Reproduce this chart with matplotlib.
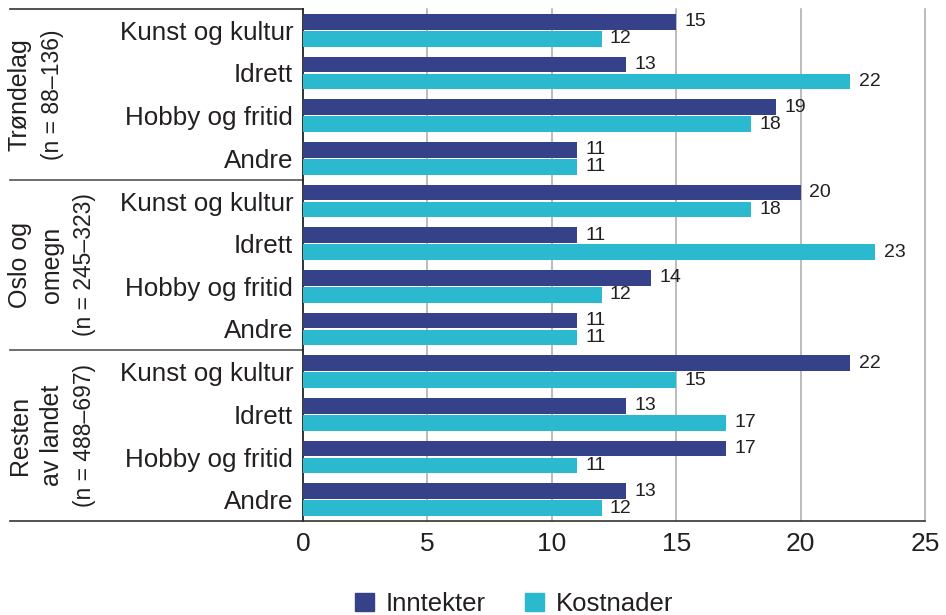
import matplotlib
matplotlib.use("Agg")
import matplotlib.pyplot as plt
import matplotlib.transforms as mtransforms
from matplotlib.lines import Line2D
from matplotlib.patches import Patch
import numpy as np

plt.rcParams['font.family'] = ['Liberation Sans', 'DejaVu Sans']

categories = ["Kunst og kultur", "Idrett", "Hobby og fritid", "Andre"]
groups = [["Trøndelag", "(n = 88–136)"],
          ["Oslo og", "omegn", "(n = 245–323)"],
          ["Resten", "av landet", "(n = 488–697)"]]
inntekter = [15, 13, 19, 11, 20, 11, 14, 11, 22, 13, 17, 13]
kostnader = [12, 22, 18, 11, 18, 23, 12, 11, 15, 17, 11, 12]
series_names = ["Inntekter", "Kostnader"]
xticks = [0, 5, 10, 15, 20, 25]

c_dark = "#35428A"
c_cyan = "#2BB9CF"
txt = "#231F20"

W, H = 946, 615
fig = plt.figure(figsize=(W / 100, H / 100), dpi=100)
ax = fig.add_axes([303 / W, 1 - 521 / H, (925 - 303) / W, (521 - 9) / H])

n = len(inntekter)
y = np.arange(n)
off = 0.2
h = 0.37
b1 = ax.barh(y - off, inntekter, height=h, color=c_dark, zorder=3)
b2 = ax.barh(y + off, kostnader, height=h, color=c_cyan, zorder=3)

for bars, vals in ((b1, inntekter), (b2, kostnader)):
    for rect, v in zip(bars, vals):
        ax.annotate(f"{v}", (rect.get_width(), rect.get_y() + rect.get_height() / 2),
                    xytext=(6, 0), textcoords="offset points", va="center", ha="left",
                    fontsize=14, color=txt)

ax.set_xlim(0, 25)
ax.set_ylim(n - 0.5, -0.5)
ax.set_xticks(xticks)
ax.set_xticklabels([str(t) for t in xticks], fontsize=19, color=txt)
ax.set_yticks(y)
ax.set_yticklabels(categories * 3, fontsize=18.7, color=txt)
ax.tick_params(axis="both", length=0)
ax.tick_params(axis="x", pad=8)
ax.tick_params(axis="y", pad=7)

for t in xticks[1:]:
    ax.axvline(t, color="#AAAAAA", lw=1.1, zorder=1, clip_on=False)

for s in ("top", "right"):
    ax.spines[s].set_visible(False)
ax.spines["left"].set_color("#222222")
ax.spines["left"].set_linewidth(1.3)
ax.spines["bottom"].set_color("#333333")
ax.spines["bottom"].set_linewidth(1.2)

blend = mtransforms.blended_transform_factory(fig.transFigure, ax.transData)
x0 = 10 / W
x_axis = 303 / W
for yy, col in ((-0.5, "#333333"), (3.5, "#555555"), (7.5, "#555555"), (11.5, "#333333")):
    ax.add_line(Line2D([x0, x_axis], [yy, yy], transform=blend, color=col,
                       lw=1.2, clip_on=False))

line_x = [20 / W, 52 / W, 84 / W]
for gi, lines in enumerate(groups):
    yc = gi * 4 + 1.5
    for li, s in enumerate(lines):
        fs = 16.5 if s.startswith("(") else 18
        ax.text(line_x[li], yc, s, transform=blend, rotation=90, ha="center",
                va="center", fontsize=fs, color=txt)

handles = [Patch(color=c_dark), Patch(color=c_cyan)]
fig.legend(handles, series_names, loc="center", bbox_to_anchor=(514 / W, 1 - 604 / H),
           ncol=2, frameon=False, fontsize=18.5, handlelength=0.75, handleheight=0.75,
           handletextpad=0.45, columnspacing=1.5, labelcolor=txt, borderpad=0)

fig.savefig("out.png", dpi=100)
